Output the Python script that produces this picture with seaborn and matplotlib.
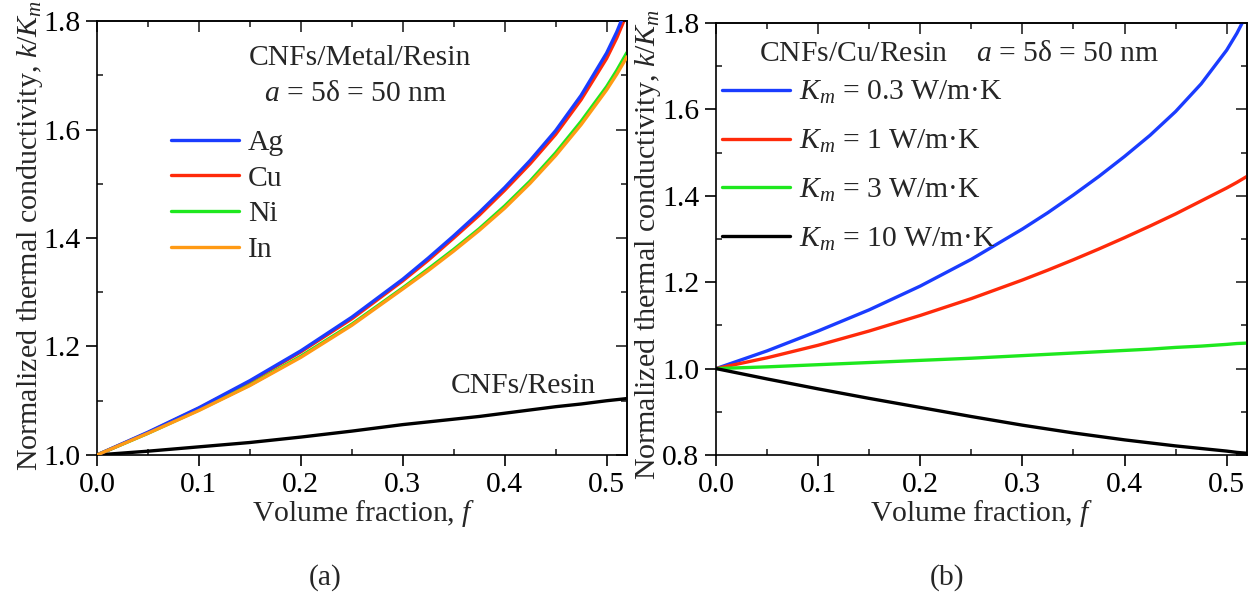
import numpy as np
import pandas as pd
import matplotlib
matplotlib.use("Agg")
import matplotlib.pyplot as plt
import seaborn as sns
from matplotlib.ticker import MultipleLocator

# volume fraction f
frac = [0.0, 0.05, 0.1, 0.15, 0.2, 0.25, 0.3, 0.325, 0.35, 0.375,
        0.4, 0.425, 0.45, 0.475, 0.5, 0.51, 0.52]

# (a) CNFs/Metal/Resin, a = 5d = 50 nm
ag = [1.000, 1.042, 1.087, 1.137, 1.192, 1.254, 1.324, 1.363, 1.404, 1.447,
      1.493, 1.543, 1.598, 1.663, 1.741, 1.780, 1.826]
cu = [1.000, 1.041, 1.086, 1.135, 1.190, 1.251, 1.321, 1.359, 1.400, 1.442,
      1.488, 1.537, 1.591, 1.655, 1.731, 1.769, 1.814]
ni = [1.000, 1.040, 1.083, 1.129, 1.182, 1.241, 1.308, 1.343, 1.379, 1.417,
      1.459, 1.505, 1.557, 1.615, 1.679, 1.709, 1.742]
indium = [1.000, 1.040, 1.082, 1.128, 1.180, 1.239, 1.306, 1.340, 1.376, 1.414,
          1.455, 1.501, 1.552, 1.609, 1.673, 1.702, 1.734]
resin = [1.000, 1.007, 1.015, 1.023, 1.033, 1.044, 1.056, 1.061, 1.066, 1.071,
         1.077, 1.083, 1.089, 1.094, 1.100, 1.102, 1.104]

# (b) CNFs/Cu/Resin, different matrix conductivity
km03 = [1.000, 1.041, 1.087, 1.136, 1.191, 1.253, 1.323, 1.361, 1.402, 1.445,
        1.491, 1.540, 1.595, 1.659, 1.737, 1.776, 1.822]
km1 = [1.000, 1.025, 1.054, 1.087, 1.123, 1.162, 1.205, 1.228, 1.252, 1.277,
       1.303, 1.330, 1.358, 1.388, 1.418, 1.431, 1.445]
km3 = [1.000, 1.004, 1.009, 1.014, 1.019, 1.024, 1.030, 1.033, 1.036, 1.039,
       1.042, 1.045, 1.049, 1.052, 1.056, 1.058, 1.059]
km10 = [1.000, 0.976, 0.953, 0.931, 0.910, 0.889, 0.869, 0.860, 0.851, 0.843,
        0.835, 0.828, 0.821, 0.815, 0.809, 0.806, 0.804]

metals = ["Ag", "Cu", "Ni", "In"]
km_labels = ["$K_m$ = 0.3 W/m\u00b7K", "$K_m$ = 1 W/m\u00b7K",
             "$K_m$ = 3 W/m\u00b7K", "$K_m$ = 10 W/m\u00b7K"]
colors_a = ["#1a3cff", "#ff2a0a", "#1ee81e", "#ff9a14"]
colors_b = ["#1a3cff", "#ff2a0a", "#1ee81e", "#000000"]
xticks = [0.0, 0.1, 0.2, 0.3, 0.4, 0.5]

sns.set_theme(style="ticks")
SERIF = ["Liberation Serif", "DejaVu Serif"]
plt.rcParams["font.family"] = SERIF
plt.rcParams["mathtext.fontset"] = "custom"
plt.rcParams["mathtext.rm"] = "Liberation Serif"
plt.rcParams["mathtext.it"] = "Liberation Serif:italic"
plt.rcParams["mathtext.bf"] = "Liberation Serif:bold"

FS = 21.3
LW = 2.4

fig = plt.figure(figsize=(12.56, 6.09), dpi=100)
ax1 = fig.add_axes([0.0772, 0.2529, 0.4220, 0.7126])
ax2 = fig.add_axes([0.5701, 0.2529, 0.4228, 0.7094])


def style(ax, yticks):
    ax.set_xlim(0, 0.52)
    ax.set_ylim(yticks[0], yticks[-1])
    ax.set_xticks(xticks)
    ax.set_xticklabels([f"{t:.1f}" for t in xticks], fontfamily="Liberation Serif", fontsize=FS)
    ax.set_yticks(yticks)
    ax.set_yticklabels([f"{t:.1f}" for t in yticks], fontfamily="Liberation Serif", fontsize=FS)
    ax.xaxis.set_minor_locator(MultipleLocator(0.05))
    ax.yaxis.set_minor_locator(MultipleLocator(0.1))
    ax.tick_params(which="major", direction="out", length=8, width=1.2, pad=4, colors="black")
    ax.tick_params(which="minor", direction="in", length=4, width=1.2)
    for s in ax.spines.values():
        s.set_visible(True)
        s.set_linewidth(1.2)
        s.set_color("black")
    top = ax.secondary_xaxis("top")
    top.set_xticks(xticks)
    top.xaxis.set_minor_locator(MultipleLocator(0.05))
    top.tick_params(which="major", direction="in", length=8, width=1.2, labeltop=False)
    top.tick_params(which="minor", direction="in", length=4, width=1.2)
    right = ax.secondary_yaxis("right")
    right.set_yticks(yticks)
    right.yaxis.set_minor_locator(MultipleLocator(0.1))
    right.tick_params(which="major", direction="in", length=8, width=1.2, labelright=False)
    right.tick_params(which="minor", direction="in", length=4, width=1.2)
    ax.set_xlabel("Volume fraction, $f$", fontsize=FS)
    ax.set_ylabel("Normalized thermal conductivity, $k$/$K_m$", fontsize=21.6)


# ---- (a)
df_a = pd.DataFrame({
    "f": frac * 4,
    "k": ag + cu + ni + indium,
    "metal": np.repeat(metals, len(frac)),
})
sns.lineplot(data=df_a, x="f", y="k", hue="metal", hue_order=metals,
             palette=colors_a, lw=LW, ax=ax1, estimator=None, sort=False, legend=False)
lines_a = ax1.get_lines()[:4]
lines_a[0].set_zorder(3)
lines_a[3].set_zorder(3)
sns.lineplot(x=frac, y=resin, color="black", lw=LW, ax=ax1, estimator=None, legend=False)

style(ax1, [1.0, 1.2, 1.4, 1.6, 1.8])
ax1.legend(lines_a, metals, frameon=False, loc="upper left", bbox_to_anchor=(0.1396, 0.75),
           fontsize=FS, handlelength=2.3, handletextpad=0.3, labelspacing=0.3,
           borderpad=0, borderaxespad=0)
ax1.text(0.496, 0.915, "CNFs/Metal/Resin", transform=ax1.transAxes, fontsize=FS,
         ha="center", va="center")
ax1.text(0.487, 0.832, "$a$ = 5\u03b4 = 50 nm", transform=ax1.transAxes, fontsize=FS,
         ha="center", va="center")
ax1.text(0.804, 0.159, "CNFs/Resin", transform=ax1.transAxes, fontsize=FS,
         ha="center", va="center")
ax1.yaxis.set_label_coords(-0.098, 0.505)
ax1.xaxis.set_label_coords(0.504, -0.1)

# ---- (b)
df_b = pd.DataFrame({
    "f": frac * 4,
    "k": km03 + km1 + km3 + km10,
    "Km": np.repeat(km_labels, len(frac)),
})
sns.lineplot(data=df_b, x="f", y="k", hue="Km", hue_order=km_labels,
             palette=colors_b, lw=LW, ax=ax2, estimator=None, sort=False, legend=False)
lines_b = ax2.get_lines()[:4]

style(ax2, [0.8, 1.0, 1.2, 1.4, 1.6, 1.8])
ax2.legend(lines_b, km_labels, frameon=False, loc="upper left", bbox_to_anchor=(0.011, 0.87),
           fontsize=FS, handlelength=2.3, handletextpad=0.3, labelspacing=0.73,
           borderpad=0, borderaxespad=0)
ax2.text(0.457, 0.928, "CNFs/Cu/Resin    $a$ = 5\u03b4 = 50 nm", transform=ax2.transAxes,
         fontsize=FS, ha="center", va="center")
ax2.yaxis.set_label_coords(-0.1, 0.488)
ax2.xaxis.set_label_coords(0.5, -0.1)

fig.text(0.2588, 0.051, "(a)", fontsize=FS, ha="center", va="center")
fig.text(0.754, 0.051, "(b)", fontsize=FS, ha="center", va="center")

fig.savefig("out.png", dpi=100, facecolor="white")
